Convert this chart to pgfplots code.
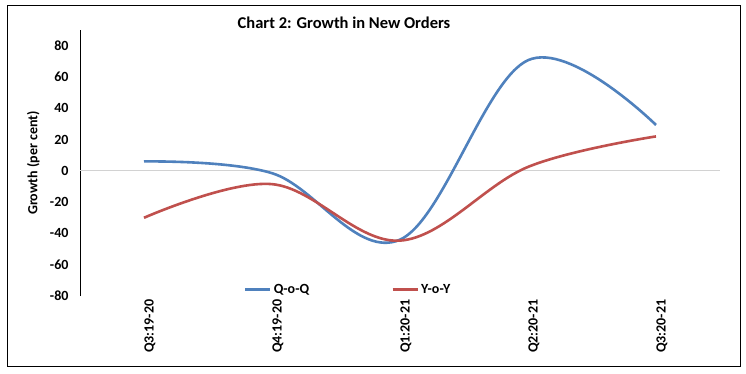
\documentclass[border=0pt]{standalone}
\usepackage{pgfplots}
\pgfplotsset{compat=1.18}
\usepackage{fontspec}
\setmainfont{Carlito}
\definecolor{qblue}{HTML}{4F81BD}
\definecolor{yred}{HTML}{C0504D}
\begin{document}
\begin{tikzpicture}[x=1pt,y=1pt]
\fill[white] (0,0) rectangle (746,373);
\draw[black, line width=1pt] (7,7) rectangle (740,367);
\node[font=\bfseries\fontsize{16.5}{18}\selectfont] at (344,350) {Chart 2: Growth in New Orders};
\begin{axis}[
  at={(80pt,77pt)}, anchor=south west,
  scale only axis, width=640pt, height=266pt,
  xmin=-0.5, xmax=4.5, ymin=-80, ymax=90,
  ytick={-80,-60,...,80},
  xtick={0,1,2,3,4},
  xticklabels={Q3:19-20,Q4:19-20,Q1:20-21,Q2:20-21,Q3:20-21},
  x tick label style={rotate=90, anchor=east, font=\bfseries\fontsize{14}{16}\selectfont},
  y tick label style={font=\bfseries\fontsize{14}{16}\selectfont},
  /pgf/number format/assume math mode=true,
  axis y line*=left, axis x line*=bottom,
  x axis line style={draw=none},
  y axis line style={line width=1pt, -},
  major tick length=0pt,
  yticklabel style={xshift=-8pt},
  xticklabel style={yshift=-6pt},
  ylabel={Growth (per cent)},
  ylabel style={font=\bfseries\fontsize{14}{16}\selectfont, anchor=center, at={(axis description cs:-0.073,0.5)}},
  legend columns=2,
  legend style={draw=none, fill=none, at={(axis description cs:0.419,0.023)}, anchor=center,
    font=\bfseries\fontsize{14}{16}\selectfont,
    /tikz/every even column/.append style={column sep=80pt}},
  legend image code/.code={\draw[#1, line width=3pt] (0pt,0pt) -- (25pt,0pt);},
]
\addplot[gray!35, line width=0.8pt, forget plot] coordinates {(-0.5,0) (4.5,0)};
\addplot[qblue, line width=2.6pt, smooth, tension=0.6] coordinates {(0,6) (1,-1.5) (2,-44) (3,70.7) (4,29.3)};
\addlegendentry{Q-o-Q}
\addplot[yred, line width=2.6pt, smooth, tension=0.6] coordinates {(0,-30) (1,-8.5) (2,-44.6) (3,2.5) (4,22)};
\addlegendentry{Y-o-Y}
\end{axis}
\end{tikzpicture}
\end{document}
